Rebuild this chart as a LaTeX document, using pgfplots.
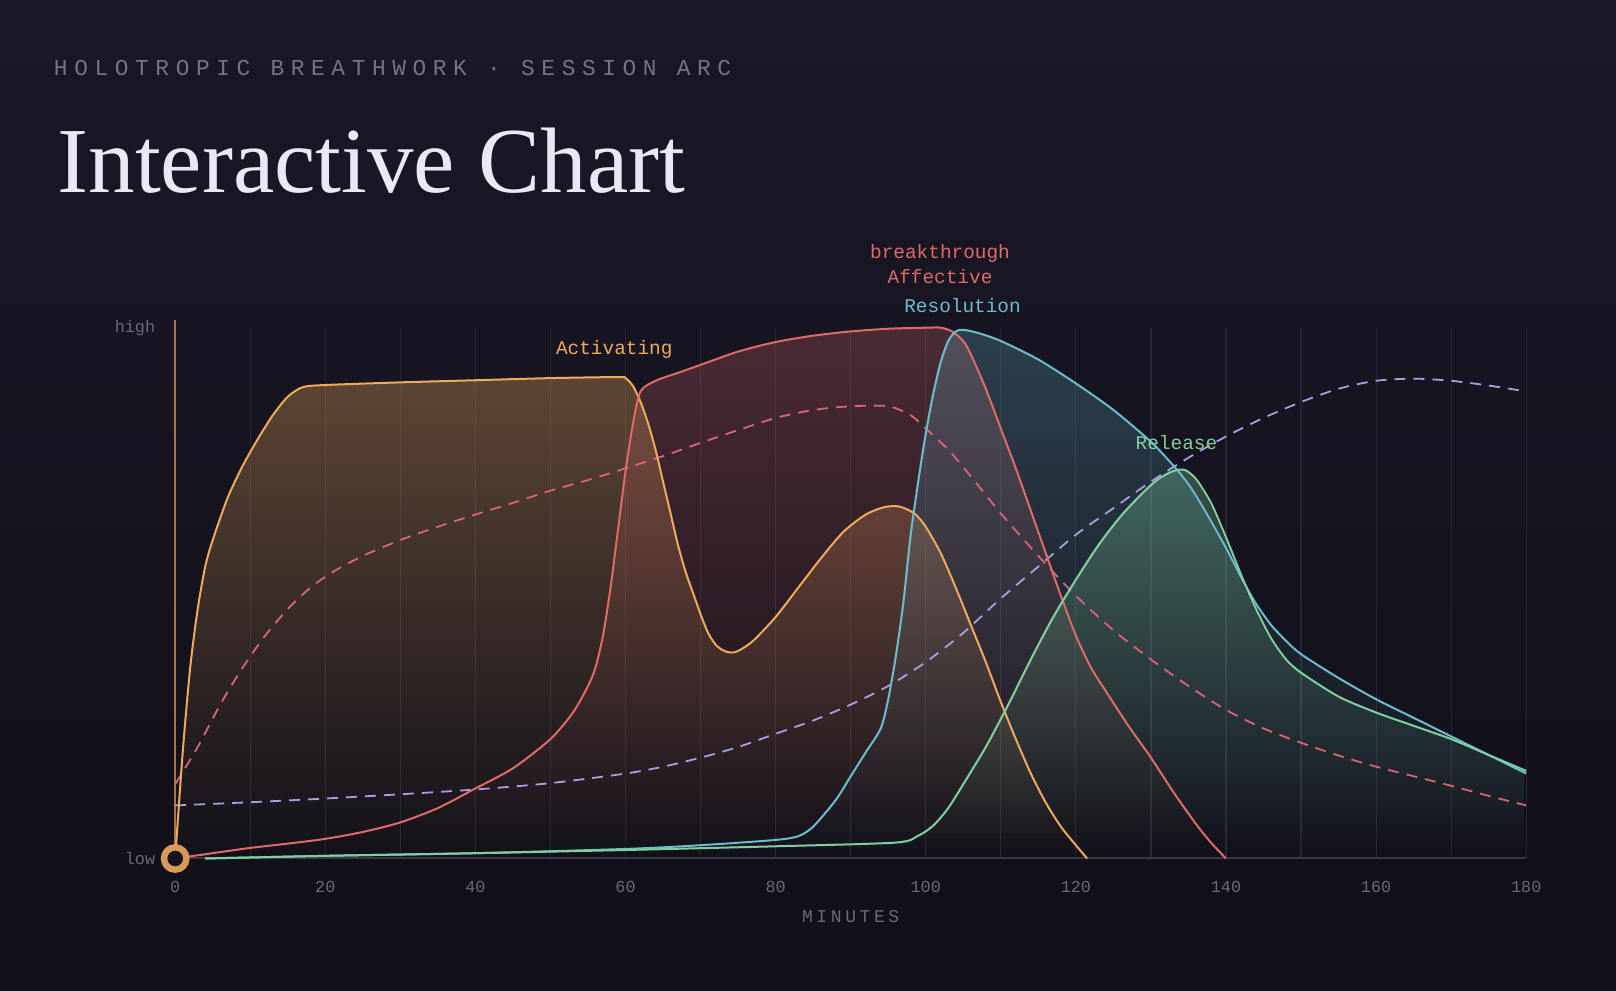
\documentclass[border=0pt]{standalone}
\usepackage{fontspec}
\usepackage{pgfplots}
\usepackage{pgfplotstable}
\pgfplotsset{compat=1.18}
\usetikzlibrary{fadings}
\setmainfont{Liberation Serif}
\newfontfamily\monof{Liberation Mono}
\newfontfamily\monosub[LetterSpace=29]{Liberation Mono}
\newfontfamily\monolab[LetterSpace=20]{Liberation Mono}

\definecolor{bgtop}{HTML}{1A1826}
\definecolor{bgbot}{HTML}{111018}
\definecolor{bgmid}{HTML}{16141F}
\definecolor{subgray}{HTML}{77737F}
\definecolor{titlecol}{HTML}{ECE8F3}
\definecolor{tickgray}{HTML}{6C6877}
\definecolor{gridcol}{HTML}{272532}
\definecolor{axisgray}{HTML}{3A3845}
\definecolor{cOrange}{HTML}{F0AA5C}
\definecolor{cRed}{HTML}{E06A68}
\definecolor{cBlue}{HTML}{6BBCCC}
\definecolor{cGreen}{HTML}{80CFA0}
\definecolor{cPurple}{HTML}{A99EE2}
\definecolor{cPink}{HTML}{DA6477}
\definecolor{cAxisY}{HTML}{A87448}
\definecolor{cRing}{HTML}{D89A5A}

\tikzfading[name=fadedown, top color=transparent!15, bottom color=transparent!100]

\pgfplotstableread{
x y
0 0
1 20
2 36
3 47
4 55
5 60
7 68
9 74
11 79
13 83.5
15 87
17 88.8
20 89.2
30 89.7
40 90.1
50 90.5
59 90.7
60 90.5
61 89
62 86
63 82
64 77
65 71
66 65
67 59
68 54
69 50
70 46
71 42.5
72 40.3
73 39.2
74 38.8
75 39.1
77 41
80 45.5
83 51
86 56.5
89 61.5
92 64.8
94.5 66.2
96.5 66.3
98.5 65
100 62.5
102 57.5
104 51
106 44
108 37
110 29.5
112 22.5
114 16
116 10.5
118 6
120 2.5
121.5 0
}\orange

\pgfplotstableread{
x y
0 0
5 1
10 2
15 2.8
20 3.7
25 5
30 6.8
35 9.5
40 13.2
45 17
50 22.5
53 27.5
55 32.5
56 36
57 42
58 51
59 62
60 73
61 82
62 88
64 90
67 91.5
70 93
75 95.5
80 97.3
85 98.5
90 99.3
95 99.8
100 100
102 100
103.5 99.3
105 97.5
106 95
108 88.5
110 81
112 73.5
114 65.5
116 57.5
118 49.5
120 42
122 36
124 31.5
127 25
130 19
133 12.5
136 6.5
138 3
140 0
}\red

\pgfplotstableread{
x y
4 0
20 0.5
40 1
60 1.8
70 2.5
80 3.5
83 4.2
85 6
88 11
90 15.5
92 20
94 24.5
95 30
96 38
97 48
98 61
99 71
100 80
101 87.5
102 93.5
103 97.5
104 99.3
105 99.6
107 99
110 97.5
115 94
120 89.5
125 84.5
130 78.5
133 74
135 70.5
137 66
140 58.5
142 53
144 48
146 44
148 41
150 38.5
155 34
160 30
165 26.5
170 23
175 19.5
180 16
}\blue

\pgfplotstableread{
x y
4 0
20 0.5
40 1
60 1.6
80 2.3
96 3
99 4.3
101 6.2
103 9.5
105 14
108 21
111 29
114 37.5
117 45.5
120 52.5
123 59
126 64.5
129 69
131 71.5
133 73
134.5 73.2
136 71.5
138 67
140 60.5
142 53.5
144 47
146 41.5
148 37.5
150 35
155 30.5
160 27.5
165 25
170 22.5
175 19.5
180 16.5
}\green

\pgfplotstableread{
x y
0 14
3 21
6 29
9 36
12 42
15 47
18 51
21 54
25 57
30 60
35 62.5
40 64.8
45 67
50 69.3
55 71.3
60 73.5
65 75.8
70 78.3
75 80.7
80 83
85 84.5
90 85.2
95 85.2
98 83.5
100 81
103 77
106 72
110 65
115 57
120 49.5
125 43
130 37.5
135 32.5
140 28
145 24.5
150 21.8
155 19.4
160 17.3
165 15.5
170 13.7
175 11.8
180 10
}\pinkdash

\pgfplotstableread{
x y
0 10
10 10.6
20 11.3
30 12.1
40 13
50 14.2
60 16
65 17.3
70 19
75 21
80 23.5
85 26
90 29
95 32.5
100 37
105 42.5
110 49
115 55
120 61
125 66
130 71
135 75.5
140 79.5
145 83
150 86
155 88.5
160 90
165 90.4
170 90
175 89.1
180 88
}\purpledash

\begin{document}
\begin{tikzpicture}
\shade[top color=bgtop, bottom color=bgbot] (0,0) rectangle (808pt,495pt);

\node[anchor=west, font=\monosub\fontsize{11.4}{12}\selectfont, text=subgray, inner sep=0pt] at (26.8pt,461pt) {HOLOTROPIC BREATHWORK · SESSION ARC};
\node[anchor=base west, font=\fontsize{46.5}{46.5}\selectfont, text=titlecol, inner sep=0pt] at (28.6pt,398.6pt) {Interactive Chart};

\begin{axis}[
  at={(87.6pt,65.75pt)}, anchor=south west,
  width=675.5pt, height=265.4pt, scale only axis,
  xmin=0, xmax=180, ymin=0, ymax=100,
  enlargelimits=false, clip=false,
  axis line style={draw=none},
  major tick length=0pt, minor tick length=0pt,
  xtick={0,20,...,180},
  minor x tick num=1,
  xmajorgrids, xminorgrids,
  grid style={draw=gridcol, line width=0.6pt},
  minor grid style={draw=gridcol, line width=0.6pt},
  ytick={0,100}, yticklabels={low,high},
  /pgf/number format/assume math mode=true,
  xticklabel style={font=\monof\fontsize{8.4}{9}\selectfont, text=tickgray, yshift=-8pt},
  yticklabel style={font=\monof\fontsize{8.4}{9}\selectfont, text=tickgray, xshift=-6.5pt},
  ytick style={draw=none},
  smooth, tension=0.45,
]
% fills
\addplot[draw=none, fill=cOrange, fill opacity=0.38, path fading=fadedown] table {\orange} \closedcycle;
\addplot[draw=none, fill=cRed, fill opacity=0.3, path fading=fadedown] table {\red} \closedcycle;
\addplot[draw=none, fill=cBlue, fill opacity=0.3, path fading=fadedown] table {\blue} \closedcycle;
\addplot[draw=none, fill=cGreen, fill opacity=0.38, path fading=fadedown] table {\green} \closedcycle;

% axis lines
\draw[axisgray, line width=1pt] (axis cs:0,0) -- (axis cs:180,0);
\draw[cAxisY, line width=1pt] (axis cs:0,0) -- (axis cs:0,101.4);

% dashed
\addplot[cPink, line width=0.9pt, dash pattern=on 5.5pt off 4pt] table {\pinkdash};
\addplot[cPurple, line width=0.9pt, dash pattern=on 5.5pt off 4pt] table {\purpledash};

% lines
\addplot[cOrange, line width=1pt] table {\orange};
\addplot[cRed, line width=1pt] table {\red};
\addplot[cBlue, line width=1pt] table {\blue};
\addplot[cGreen, line width=1pt] table {\green};

\addplot[only marks, mark=*, mark size=5.6pt, mark options={draw=cRing, fill=bgmid, line width=3.2pt}] coordinates {(0,0)};

\node[font=\monof\fontsize{9.7}{10}\selectfont, text=cOrange] at (axis cs:58.5,95.9) {Activating};
\node[font=\monof\fontsize{9.7}{10}\selectfont, text=cRed] at (axis cs:101.9,114.0) {breakthrough};
\node[font=\monof\fontsize{9.7}{10}\selectfont, text=cRed] at (axis cs:101.9,109.7) {Affective};
\node[font=\monof\fontsize{9.7}{10}\selectfont, text=cBlue] at (axis cs:104.9,104.1) {Resolution};
\node[font=\monof\fontsize{9.7}{10}\selectfont, text=cGreen] at (axis cs:133.4,78.3) {Release};
\node[font=\monolab\fontsize{9}{10}\selectfont, text=tickgray] at (axis cs:90,0) [yshift=-29.25pt] {MINUTES};
\end{axis}
\pgfresetboundingbox
\path (0,0) rectangle (808pt,495pt);
\end{tikzpicture}
\end{document}
